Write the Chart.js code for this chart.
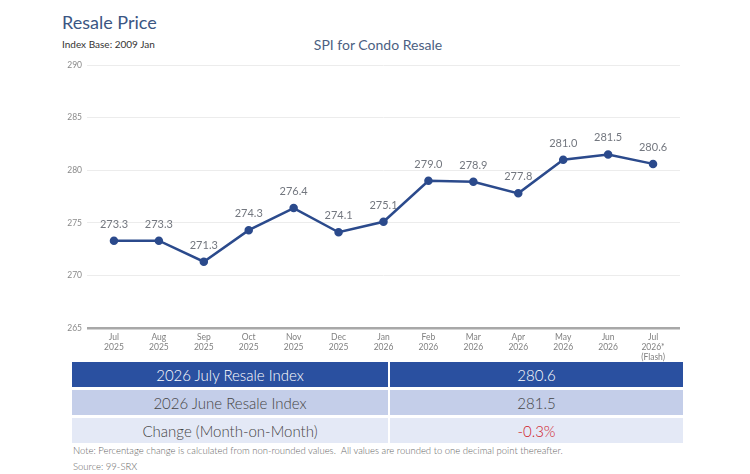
<!DOCTYPE html>
<html>
<head>
<meta charset="utf-8">
<script src="https://cdn.jsdelivr.net/npm/chart.js@4"></script>
<style>
  body { margin: 0; width: 750px; height: 474px; background: #fff; font-family: Lato, "Open Sans", sans-serif; font-weight: 300; position: relative; overflow: hidden; }
  #title { position: absolute; left: 62px; top: 11px; font-size: 18px; color: #3b5683; font-weight: 400; }
  #base { position: absolute; left: 62px; top: 38px; font-size: 10px; color: #333; font-weight: 400; }
  #sub { position: absolute; left: 0; width: 756px; top: 36px; text-align: center; font-size: 14px; color: #4c5f82; font-weight: 400; }
  #wrap { position: absolute; left: 0; top: 0; width: 750px; height: 362px; }
  table { position: absolute; left: 72px; top: 362px; width: 611px; border-collapse: collapse; font-size: 15px; font-weight: 300; }
  td { height: 25px; padding: 0; text-align: center; border-bottom: 3px solid #fff; }
  td.l { width: 316px; border-right: 2px solid #fff; }
  tr.r1 td { background: #2a50a0; color: #fff; }
  tr.r2 td { background: #c4cee9; color: #444; }
  tr.r3 td { background: #e4e9f6; color: #444; }
  .neg { color: #d0202a !important; }
  #note { position: absolute; left: 73px; top: 445px; font-size: 9.5px; color: #666; }
  #src { position: absolute; left: 73px; top: 461px; font-size: 9.5px; color: #666; }
</style>
</head>
<body>
<div id="title">Resale Price</div>
<div id="base">Index Base: 2009 Jan</div>
<div id="sub">SPI for Condo Resale</div>
<div id="wrap"><canvas id="c"></canvas></div>
<table>
  <tr class="r1"><td class="l">2026 July Resale Index</td><td>280.6</td></tr>
  <tr class="r2"><td class="l">2026 June Resale Index</td><td>281.5</td></tr>
  <tr class="r3"><td class="l">Change (Month-on-Month)</td><td class="neg">-0.3%</td></tr>
</table>
<div id="note">Note: Percentage change is calculated from non-rounded values.&nbsp; All values are rounded to one decimal point thereafter.</div>
<div id="src">Source: 99-SRX</div>
<script>
const months = [
  ["Jul", "2025"], ["Aug", "2025"], ["Sep", "2025"], ["Oct", "2025"], ["Nov", "2025"],
  ["Dec", "2025"], ["Jan", "2026"], ["Feb", "2026"], ["Mar", "2026"], ["Apr", "2026"],
  ["May", "2026"], ["Jun", "2026"], ["Jul", "2026*", "(Flash)"]
];
const resaleIndex = [273.3, 273.3, 271.3, 274.3, 276.4, 274.1, 275.1, 279.0, 278.9, 277.8, 281.0, 281.5, 280.6];
const yTicks = [265, 270, 275, 280, 285, 290];

// value labels above each point
const pointLabels = {
  id: "pointLabels",
  afterDatasetsDraw(chart) {
    const ctx = chart.ctx;
    const meta = chart.getDatasetMeta(0);
    ctx.save();
    ctx.font = "400 11px Lato, sans-serif";
    ctx.fillStyle = "#73777f";
    ctx.textAlign = "center";
    ctx.textBaseline = "bottom";
    meta.data.forEach((pt, i) => {
      ctx.fillText(resaleIndex[i].toFixed(1), pt.x, pt.y - 11);
    });
    ctx.restore();
  }
};

new Chart(document.getElementById("c"), {
  type: "line",
  data: {
    datasets: [{
      data: resaleIndex.map((v, i) => ({ x: i, y: v })),
      borderColor: "#2b4a8c",
      backgroundColor: "#2b4a8c",
      borderWidth: 2.5,
      pointRadius: 3,
      pointHoverRadius: 3,
      tension: 0
    }]
  },
  options: {
    responsive: true,
    maintainAspectRatio: false,
    animation: false,
    layout: { padding: { top: 65, left: 40, right: 70, bottom: 0 } },
    plugins: { legend: { display: false }, tooltip: { enabled: false } },
    scales: {
      x: {
        type: "linear",
        min: -0.6,
        max: 12.6,
        afterBuildTicks: s => { s.ticks = months.map((m, i) => ({ value: i })); },
        afterFit: s => { s.height = 34; },
        grid: { display: false, drawTicks: false },
        border: { display: false },
        ticks: {
          padding: 4,
          autoSkip: false,
          maxRotation: 0,
          color: "#808080",
          font: { size: 8.5, family: "Lato", weight: "400" },
          callback: v => months[v]
        }
      },
      y: {
        min: 265,
        max: 290,
        afterBuildTicks: s => { s.ticks = yTicks.map(v => ({ value: v })); },
        afterFit: s => { s.width = 47; },
        grid: {
          color: c => c.tick.value === 265 ? "#a8a8a8" : "#ececec",
          lineWidth: c => c.tick.value === 265 ? 2.5 : 1,
          drawTicks: false
        },
        border: { display: false },
        ticks: {
          padding: 5,
          color: "#8a8a8a",
          font: { size: 8.5, family: "Lato", weight: "400" }
        }
      }
    }
  },
  plugins: [pointLabels]
});
</script>
</body>
</html>
